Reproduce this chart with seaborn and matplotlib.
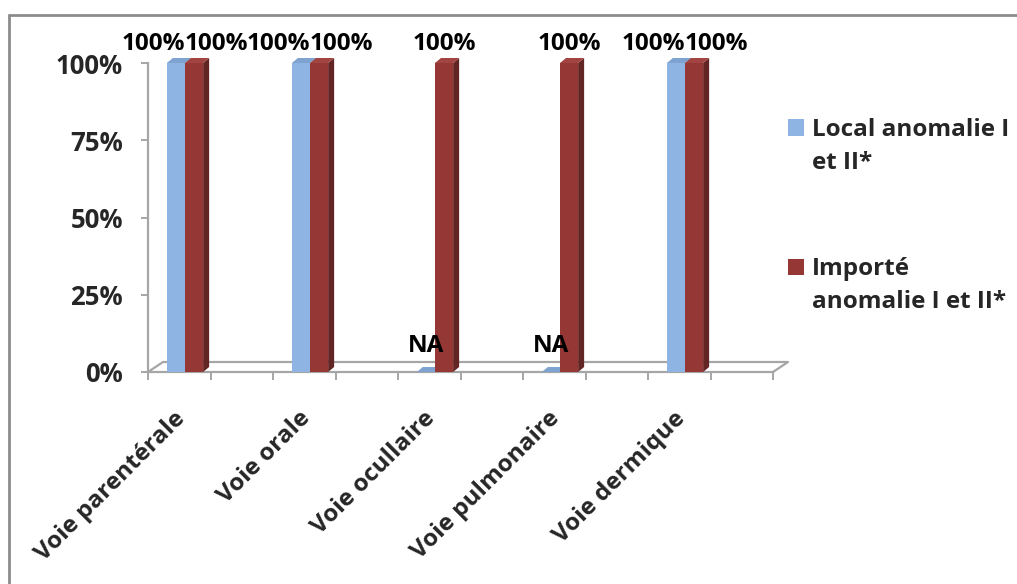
import numpy as np
import pandas as pd
import matplotlib
matplotlib.use("Agg")
import matplotlib.pyplot as plt
from matplotlib.patches import Polygon, Rectangle
from matplotlib.lines import Line2D
from matplotlib.legend_handler import HandlerPatch
from matplotlib.transforms import ScaledTranslation
import seaborn as sns

# --- data -------------------------------------------------------------
categories = ["Voie parentérale", "Voie orale", "Voie ocullaire",
              "Voie pulmonaire", "Voie dermique"]
series = ["Local anomalie I\net II*", "Importé\nanomalie I et II*"]
local_share = [1.0, 1.0, np.nan, np.nan, 1.0]      # NaN = not available
imported_share = [1.0, 1.0, 1.0, 1.0, 1.0]
y_ticks = [0, 0.25, 0.5, 0.75, 1.0]
y_tick_labels = ["0%", "25%", "50%", "75%", "100%"]

front_colors = ["#8EB4E3", "#953735"]
side_colors = ["#6A8DBA", "#632523"]
top_colors = ["#7FA3D0", "#A24542"]

sns.set_theme(style="white")
plt.rcParams["font.family"] = ["Open Sans", "DejaVu Sans"]
plt.rcParams["font.weight"] = "bold"

df = pd.DataFrame({
    "categorie": categories * 2,
    "serie": [series[0]] * len(categories) + [series[1]] * len(categories),
    "valeur": list(np.nan_to_num(local_share)) + imported_share,
})

fig = plt.figure(figsize=(10.17, 5.84), dpi=100)
W, H = 1017, 584
ax = fig.add_axes([148 / W, (H - 372) / H, 625 / W, 309 / H])

sns.barplot(data=df, x="categorie", y="valeur", hue="serie",
            palette=front_colors, width=0.29, gap=0, ax=ax,
            saturation=1, edgecolor="none", linewidth=0, legend=True)

x0 = -0.296
ax.set_xlim(x0, x0 + 5.0)
ax.set_ylim(0, 1.0)

# pseudo-3D depth (data units)
dx, dy = 6 / 125, 5 / 309
for k, cont in enumerate(ax.containers):
    for bar in cont:
        bar.set_zorder(3 + k)
        x, w, h = bar.get_x(), bar.get_width(), bar.get_height()
        side = Polygon([(x + w, 0), (x + w + dx, dy), (x + w + dx, h + dy), (x + w, h)],
                       closed=True, fc=side_colors[k], ec="none", zorder=3 + k, clip_on=False)
        top = Polygon([(x, h), (x + dx, h + dy), (x + w + dx, h + dy), (x + w, h)],
                      closed=True, fc=top_colors[k], ec="none", zorder=3 + k, clip_on=False)
        ax.add_patch(side)
        ax.add_patch(top)

# value labels
label_kw = dict(fontsize=17.5, fontweight="bold", color="black", zorder=10,
                textcoords="offset points", va="baseline", annotation_clip=False)
blue_bars, red_bars = ax.containers[0], ax.containers[1]
for i, (lv, iv) in enumerate(zip(local_share, imported_share)):
    rb = red_bars[i]
    bb = blue_bars[i]
    if not np.isnan(lv):
        ax.annotate(f"{lv:.0%}", xy=(i, lv + dy), xytext=(0, 6), ha="right", **label_kw)
        ax.annotate(f"{iv:.0%}", xy=(i, iv + dy), xytext=(0, 6), ha="left", **label_kw)
    else:
        ax.annotate("NA", xy=(bb.get_x() + bb.get_width() / 2, dy), xytext=(0, 11),
                    ha="center", **label_kw)
        ax.annotate(f"{iv:.0%}", xy=(rb.get_x() + rb.get_width() / 2, iv + dy),
                    xytext=(0, 6), ha="center", **label_kw)

# floor of the 3D box
gray = "#A6A6A6"
fx, fy = 15 / 125, 10 / 309
xl = ax.get_xlim()
ax.plot([xl[0], xl[0] + fx, xl[1] + fx, xl[1]], [0, fy, fy, 0],
        color=gray, lw=1.6, clip_on=False, zorder=1)

# axes styling
for s in ["top", "right"]:
    ax.spines[s].set_visible(False)
for s in ["left", "bottom"]:
    ax.spines[s].set_color(gray)
    ax.spines[s].set_linewidth(1.6)

ax.set_yticks(y_ticks)
ax.set_yticklabels(y_tick_labels, fontsize=18.5, fontweight="bold")
ax.tick_params(axis="y", left=True, length=5, width=1.4, color=gray, pad=13)

ax.set_xticks(range(len(categories)))
ax.set_xticklabels(categories, rotation=45, ha="right", rotation_mode="anchor",
                   fontsize=17.5, fontweight="bold")
ax.tick_params(axis="x", which="major", bottom=False, pad=19)
shift = ScaledTranslation(-12 / 100, 0, fig.dpi_scale_trans)
for lbl in ax.get_xticklabels():
    lbl.set_transform(lbl.get_transform() + shift)
ax.set_xticks([x0 + 0.5 * k for k in range(11)], minor=True)
ax.tick_params(axis="x", which="minor", bottom=True, length=6, width=1.4, color=gray)

ax.set_xlabel("")
ax.set_ylabel("")


# legend: square key aligned with the first line of each label
def top_aligned_key(legend, orig_handle, xdescent, ydescent, width, height, fontsize):
    return Rectangle((-xdescent, -ydescent + 0.8 * fontsize), width, height)


handles, labels = ax.get_legend_handles_labels()
leg = ax.legend(handles, labels, loc="upper left", bbox_to_anchor=(778 / W, 1 - 108 / H),
                bbox_transform=fig.transFigure, frameon=False,
                prop={"weight": "bold", "size": 17.5}, handlelength=0.68, handleheight=0.68,
                handletextpad=0.3, labelspacing=3.4, borderaxespad=0,
                handler_map={Rectangle: HandlerPatch(patch_func=top_aligned_key)})
for t in leg.get_texts():
    t.set_linespacing(1.5)

# frame around the chart area
fig.add_artist(Line2D([9 / W, 9 / W], [0, 1 - 15 / H], transform=fig.transFigure,
                      color="#8C8C8C", lw=2))
fig.add_artist(Line2D([9 / W, 1], [1 - 15 / H, 1 - 15 / H], transform=fig.transFigure,
                      color="#8C8C8C", lw=2))

fig.savefig("out.png", dpi=100)
